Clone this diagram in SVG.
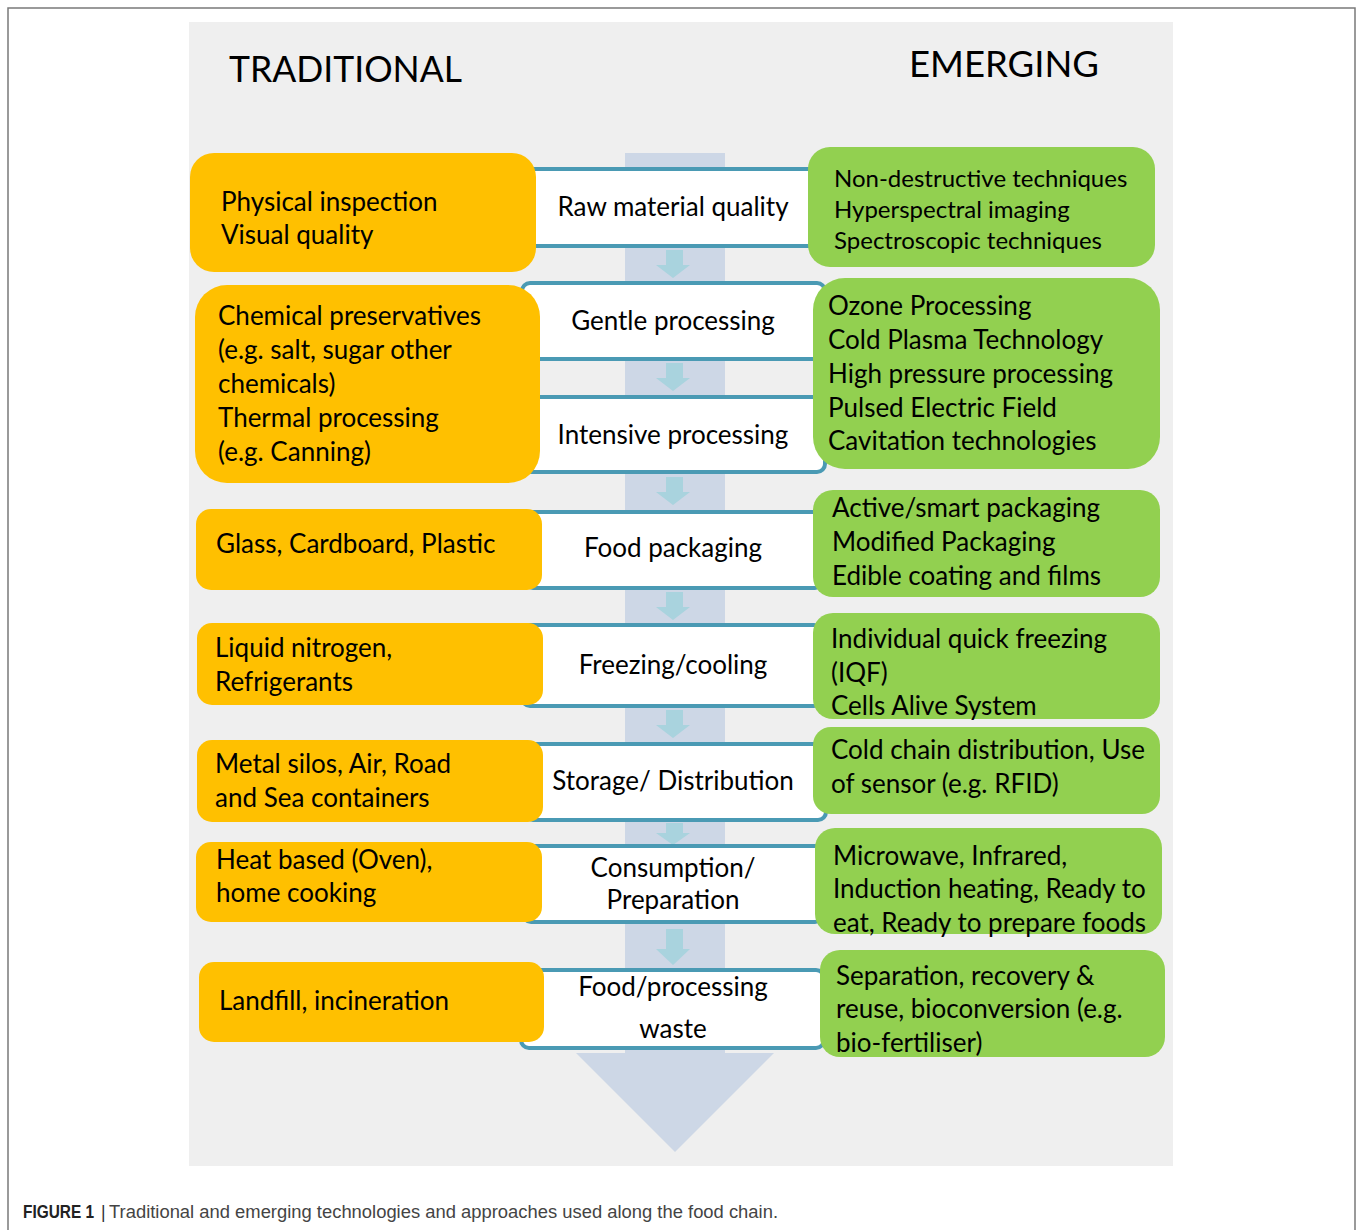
<svg xmlns="http://www.w3.org/2000/svg" width="1357" height="1230" viewBox="0 0 1357 1230">
<style>
.t{font-family:Lato,"Open Sans","DejaVu Sans",sans-serif;font-size:26px;fill:#000}
.s{font-size:24px}
.c{text-anchor:middle}
.h{font-family:Lato,"Open Sans",sans-serif;font-size:37px;fill:#000}
.y{fill:#FFC000}
.g{fill:#92D050}
.mid{fill:#fff;stroke:#4A9AB4;stroke-width:4}
.ar{fill:#A9D3DE}
.cap{font-family:"Liberation Sans",Arial,sans-serif;font-size:17.5px}
</style>
<rect width="1357" height="1230" fill="#fff"/>
<path d="M8,1230 V8 H1355 V1230" fill="none" stroke="#7a7a7a" stroke-width="1.5"/>
<rect x="189" y="22" width="984" height="1144" fill="#EFEFEF"/>
<g id="flow">
<rect x="625" y="153" width="100" height="901" fill="#CDD7E6"/>
<polygon points="576,1053 774,1053 675,1152" fill="#CDD7E6"/>
</g>
<g id="connectors">
<polygon class="ar" points="666,250 683,250 683,265 690,265 673,278 656,265 666,265"/>
<polygon class="ar" points="666,363 683,363 683,378 690,378 673,391 656,378 666,378"/>
<polygon class="ar" points="666,477 683,477 683,492 690,492 673,505 656,492 666,492"/>
<polygon class="ar" points="666,592 683,592 683,607 690,607 673,620 656,607 666,607"/>
<polygon class="ar" points="666,710 683,710 683,725 690,725 673,738 656,725 666,725"/>
<polygon class="ar" points="666,823 683,823 683,833 690,833 673,845 656,833 666,833"/>
<polygon class="ar" points="666,929 683,929 683,949 690,949 673,965 656,949 666,949"/>
</g>
<g id="mid-raw"><rect class="mid" x="525" y="169" width="295" height="77" rx="8"/><text class="t c" x="673" y="216">Raw material quality</text></g>
<g id="mid-gentle"><rect class="mid" x="522" y="283" width="303" height="76" rx="8"/><text class="t c" x="673" y="330">Gentle processing</text></g>
<g id="mid-intensive"><rect class="mid" x="522" y="397" width="303" height="75" rx="8"/><text class="t c" x="673" y="444">Intensive processing</text></g>
<g id="mid-pack"><rect class="mid" x="525" y="512" width="298" height="76" rx="8"/><text class="t c" x="673" y="557">Food packaging</text></g>
<g id="mid-freeze"><rect class="mid" x="522" y="625" width="300" height="81" rx="8"/><text class="t c" x="673" y="674">Freezing/cooling</text></g>
<g id="mid-storage"><rect class="mid" x="525" y="744" width="301" height="76" rx="8"/><text class="t c" x="673" y="790">Storage/ Distribution</text></g>
<g id="mid-consumption"><rect class="mid" x="523" y="846" width="300" height="76" rx="8"/><text class="t c" x="673" y="877">Consumption/</text><text class="t c" x="673" y="909">Preparation</text></g>
<g id="mid-waste"><rect class="mid" x="521" y="970" width="303" height="78" rx="8"/><text class="t c" x="673" y="996">Food/processing</text><text class="t c" x="673" y="1038">waste</text></g>
<g id="trad-1"><rect class="y" x="190" y="153" width="346" height="119" rx="24"/><text class="t" x="221" y="211">Physical inspection</text><text class="t" x="221" y="244">Visual quality</text></g>
<g id="trad-2"><rect class="y" x="195" y="285" width="345" height="198" rx="32"/><text class="t" x="218" y="325">Chemical preservatives</text><text class="t" x="218" y="359">(e.g. salt, sugar other</text><text class="t" x="218" y="393">chemicals)</text><text class="t" x="218" y="427">Thermal processing</text><text class="t" x="218" y="461">(e.g. Canning)</text></g>
<g id="trad-3"><rect class="y" x="196" y="509" width="346" height="81" rx="15"/><text class="t" x="216" y="553">Glass, Cardboard, Plastic</text></g>
<g id="trad-4"><rect class="y" x="197" y="623" width="346" height="82" rx="15"/><text class="t" x="215" y="657">Liquid nitrogen,</text><text class="t" x="215" y="691">Refrigerants</text></g>
<g id="trad-5"><rect class="y" x="197" y="740" width="346" height="82" rx="15"/><text class="t" x="215" y="773">Metal silos, Air, Road</text><text class="t" x="215" y="807">and Sea containers</text></g>
<g id="trad-6"><rect class="y" x="196" y="842" width="346" height="80" rx="15"/><text class="t" x="216" y="869">Heat based (Oven),</text><text class="t" x="216" y="902">home cooking</text></g>
<g id="trad-7"><rect class="y" x="199" y="962" width="345" height="80" rx="15"/><text class="t" x="219" y="1010">Landfill, incineration</text></g>
<g id="emg-1"><rect class="g" x="808" y="147" width="347" height="120" rx="22"/><text class="t s" x="834" y="187">Non-destructive techniques</text><text class="t s" x="834" y="218">Hyperspectral imaging</text><text class="t s" x="834" y="249">Spectroscopic techniques</text></g>
<g id="emg-2"><rect class="g" x="813" y="278" width="347" height="191" rx="32"/><text class="t" x="828" y="315">Ozone Processing</text><text class="t" x="828" y="349">Cold Plasma Technology</text><text class="t" x="828" y="383">High pressure processing</text><text class="t" x="828" y="417">Pulsed Electric Field</text><text class="t" x="828" y="450">Cavitation technologies</text></g>
<g id="emg-3"><rect class="g" x="813" y="490" width="347" height="107" rx="20"/><text class="t" x="832" y="517">Active/smart packaging</text><text class="t" x="832" y="551">Modified Packaging</text><text class="t" x="832" y="585">Edible coating and films</text></g>
<g id="emg-4"><rect class="g" x="813" y="613" width="347" height="106" rx="20"/><text class="t" x="831" y="648">Individual quick freezing</text><text class="t" x="831" y="682">(IQF)</text><text class="t" x="831" y="715">Cells Alive System</text></g>
<g id="emg-5"><rect class="g" x="813" y="727" width="347" height="87" rx="18"/><text class="t" x="831" y="759">Cold chain distribution, Use</text><text class="t" x="831" y="793">of sensor (e.g. RFID)</text></g>
<g id="emg-6"><rect class="g" x="815" y="828" width="347" height="106" rx="20"/><text class="t" x="833" y="865">Microwave, Infrared,</text><text class="t" x="833" y="898">Induction heating, Ready to</text><text class="t" x="833" y="932">eat, Ready to prepare foods</text></g>
<g id="emg-7"><rect class="g" x="820" y="950" width="345" height="107" rx="20"/><text class="t" x="836" y="985">Separation, recovery &amp;</text><text class="t" x="836" y="1018">reuse, bioconversion (e.g.</text><text class="t" x="836" y="1052">bio-fertiliser)</text></g>
<text class="h" x="229" y="82" textLength="233" lengthAdjust="spacingAndGlyphs">TRADITIONAL</text>
<text class="h" x="909" y="77" textLength="190" lengthAdjust="spacingAndGlyphs">EMERGING</text>
<text class="cap" x="23" y="1218" font-weight="bold" fill="#222" textLength="71" lengthAdjust="spacingAndGlyphs">FIGURE 1</text>
<text class="cap" x="101" y="1218" fill="#333">|</text>
<text class="cap" x="109" y="1218" fill="#444" textLength="669" lengthAdjust="spacingAndGlyphs">Traditional and emerging technologies and approaches used along the food chain.</text>
</svg>
